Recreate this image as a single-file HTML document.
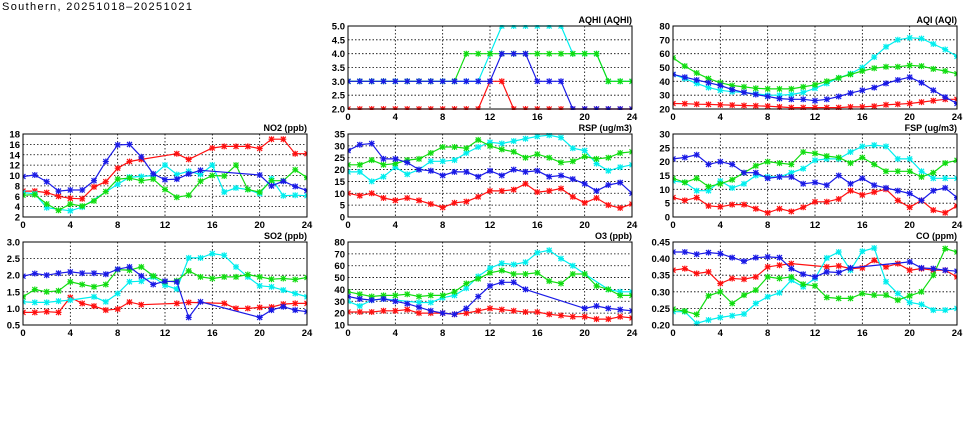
<!DOCTYPE html>
<html><head><meta charset="utf-8"><style>
html,body{margin:0;padding:0;background:#fff;width:975px;height:447px;overflow:hidden}
svg text{font-family:"Liberation Sans",sans-serif}
</style></head><body>
<svg id="s" width="975" height="447" xmlns="http://www.w3.org/2000/svg">
<text x="2" y="10" font-size="11" textLength="190" fill="#000">Southern, 20251018–20251021</text>
</svg>
<script>
const N=null;
const C={r:"#ff1010",b:"#1a1ae6",c:"#00eeee",g:"#11dd11"};
const panels=[
{t:"AQHI (AQHI)",col:1,row:0,min:2,max:5,step:.5,dec:1,d:{
r:[2,2,2,2,2,2,2,2,2,2,2,2,3,3,2,2,2,2,2,2,2,2,2,2,2],
c:[3,3,3,3,3,3,3,3,3,3,3,3,4,5,5,5,5,5,5,4,4,4,3,3,3],
g:[3,3,3,3,3,3,3,3,3,3,4,4,4,4,4,4,4,4,4,4,4,4,3,3,3],
b:[3,3,3,3,3,3,3,3,3,3,3,3,3,4,4,4,3,3,3,2,2,2,2,2,2]}},
{t:"AQI (AQI)",col:2,row:0,min:20,max:80,step:10,dec:0,d:{
r:[24,23.8,23.5,23.3,23,22.8,22.5,22.3,22,21.5,21,21,21,21,21,21.5,21.5,22,23,23.5,24,25,26,27,27],
b:[45,43,41,39,37,34,32,30.5,29,27.5,27,27,26,27,29,31.5,33.5,35.5,38.5,41,43,39,33.5,28.5,24],
c:[45,42,38.5,35.5,33.5,32.5,32,31,30,30,30.5,32,35,38.5,42.5,45.5,50,57.5,65,70,71.5,71,67,63,58],
g:[57,51,46,42,39,37,36,35,34.5,34.5,34.5,36,37.5,40,42.5,45,47.5,49.5,50.5,50.5,51.5,51,49,47.5,45.5]}},
{t:"NO2 (ppb)",col:0,row:1,min:2,max:18,step:2,dec:0,d:{
r:[7,7,6.7,6,5.6,5.5,7.8,8.8,11.4,12.7,13.1,N,N,14.2,13.1,N,15.3,15.6,15.6,15.6,15.2,17,17,14.2,14.2],
b:[9.8,10.1,8.8,7,7.2,7.2,9,12.7,15.9,16,13.6,10.3,9.2,9.3,10.3,11,N,N,N,N,10.1,8,8.9,7.9,7.1],
c:[6.7,6.5,3.8,N,3.2,3.9,N,N,8.3,9.7,9.8,10,12,10.2,10.8,10.2,12,6.8,7.6,7.3,6.5,9.4,6.1,6.2,6.1],
g:[6.2,6.3,4.5,3.3,4.5,4.1,5.1,6.9,9.3,9.5,9,9.3,7.3,5.8,6.2,8.9,10,9.9,12,7.3,6.8,9,9,11.1,9.6]}},
{t:"RSP (ug/m3)",col:1,row:1,min:0,max:35,step:5,dec:0,d:{
r:[10,9,10,8,7,8,7,5.5,4,6,6.5,8.5,11,11,11.5,14,10.5,11,12,8.5,6,8,5,3.8,5.5],
b:[28,30.5,31,24.5,24.5,23,20,19.5,17.5,19,19,17,19.5,17.5,20,19,19.5,17,17.5,16,14,11,13.5,14.5,10],
c:[19,19,15,17,21,18,20,23.5,23.5,24,27,29.5,31.5,31,32,33,34,34.5,33.5,29,28,22.5,19.5,21,22],
g:[22,22,24,22,22.5,24,24.5,27,29.5,29.5,29,32.5,30,28.5,27.5,25,26.5,25,23,23.5,25.5,24.5,25,27,27.5]}},
{t:"FSP (ug/m3)",col:2,row:1,min:0,max:30,step:5,dec:0,d:{
r:[7,6,7,4,3.7,4.5,4.5,3,1.5,3,2,3.5,5.5,5.5,6.5,9.5,8,9,10,6,3.5,6,2.5,1.5,4],
b:[21,21.5,22.5,19,20,19,16,16,14,14.5,14.5,12,12.5,11.5,15,12,14,11.5,10.5,9.5,8.5,6,9.5,10.5,7],
c:[13,12.5,9.5,9.5,13,10.5,12,15,14.5,14.5,16,17.5,20.5,21,21,23.5,25.5,26,25.5,21,21,16.5,14,14,14],
g:[14,12.5,14,11,12,13.5,16,18.5,20,19.5,19,23.5,23,22,21.5,19.5,21.5,19,16.5,16.5,16.5,14.5,16,19.5,20.5]}},
{t:"SO2 (ppb)",col:0,row:2,min:.5,max:3,step:.5,dec:1,d:{
r:[.88,.88,.9,.88,1.33,1.15,1.07,.95,.98,1.19,1.11,N,N,1.15,1.18,N,N,1.15,1.0,1.0,1.03,1.04,1.13,1.15,1.15],
b:[1.97,2.05,2.0,2.06,2.1,2.06,2.06,2.03,2.18,2.25,1.98,1.72,1.82,1.8,0.73,1.2,N,N,N,N,0.73,0.95,1.05,0.95,0.9],
c:[1.2,1.18,1.18,1.22,1.25,N,1.35,1.2,1.45,1.8,1.82,1.95,1.7,1.58,2.52,2.52,2.65,2.6,2.25,1.95,1.68,1.65,1.55,1.45,1.35],
g:[1.35,1.57,1.5,1.53,1.8,1.72,1.65,1.72,2.17,2.15,2.25,1.98,1.8,1.83,2.13,1.95,1.9,1.95,1.95,2.02,1.95,1.88,1.9,1.87,1.93]}},
{t:"O3 (ppb)",col:1,row:2,min:10,max:80,step:10,dec:0,d:{
r:[21,21,21,22,22,23,20,20,20,19,20,22,24,23,22,21,21,19,18,17,17,15,15,17,16],
b:[34,32,31,32,30,28,25,22,20,19,24,34,43,46,46,40,N,N,N,N,24,26,24,23,22],
c:[30,26,31,32,N,N,29,29,33,35,41,51,58,62,61,63,71,73,66,60,53,N,40,38,38],
g:[38,36,34,35,35,36,34,35,35,38,45,49,54,56,53,53,54,47,45,53,53,43,40,35,35]}},
{t:"CO (ppm)",col:2,row:2,min:.2,max:.45,step:.05,dec:2,d:{
r:[.365,.37,.355,.36,.325,.34,.338,.345,.375,.38,.385,N,N,.375,.378,.37,.372,.395,.375,.385,.365,.37,.365,.365,.345],
b:[.42,.42,.413,.418,.415,.403,.392,.403,.405,.403,.37,.353,.345,.36,.358,.372,N,N,N,N,.39,.372,.37,.365,.362],
c:[.24,.24,.205,.215,.223,.228,.233,.265,.285,.297,.335,.315,.34,.402,.42,.365,.422,.432,.33,.295,.268,.262,.245,.245,.25],
g:[.248,.242,.232,.288,.3,.265,.29,.305,.345,.34,.345,.323,.318,.283,.28,.28,.295,.29,.29,.275,.288,.3,.35,.43,.42]}}
];
const XL=[23,348,673],YT=[26,134,242],W=284,H=83;
let o="";
for(const p of panels){
 const x0=XL[p.col],y0=YT[p.row];
 const sx=h=>x0+h/24*W, sy=v=>y0+H-(v-p.min)/(p.max-p.min)*H;
 const n=Math.round((p.max-p.min)/p.step);
 for(let i=0;i<=n;i++){const v=p.min+i*p.step,y=sy(v);
  if(i>0&&i<n)o+=`<line x1="${x0}" y1="${y}" x2="${x0+W}" y2="${y}" stroke="#000" stroke-width="0.8" stroke-dasharray="1.5,2"/>`;
  o+=`<text x="${x0-3}" y="${y+3.5}" font-size="9.5" font-weight="bold" text-anchor="end">${v.toFixed(p.dec)}</text>`;}
 for(let h=0;h<=24;h+=4){const x=sx(h);
  if(h>0&&h<24)o+=`<line x1="${x}" y1="${y0}" x2="${x}" y2="${y0+H}" stroke="#000" stroke-width="0.8" stroke-dasharray="1.5,2"/>`;
  o+=`<text x="${x}" y="${y0+H+11}" font-size="9.5" font-weight="bold" text-anchor="middle">${h}</text>`;}
 o+=`<text x="${x0+W}" y="${y0-3}" font-size="9" font-weight="bold" text-anchor="end">${p.t}</text>`;
 o+=`<svg x="${x0}" y="${y0-1}" width="${W}" height="${H+2}" overflow="hidden"><g transform="translate(${-x0},${-(y0-1)})">`;
 for(const k of ["r","c","g","b"]){const a=p.d[k];let pts=[],mk="";
  a.forEach((v,h)=>{if(v===null)return;const x=sx(h).toFixed(1),y=sy(v).toFixed(1);pts.push(x+","+y);
   mk+=`M${x-2.5},${y-2.5}l5,5M${x-2.5},${+y+2.5}l5,-5M${x-3},${y}h6M${x},${y-3}v6`;});
  o+=`<polyline points="${pts.join(" ")}" fill="none" stroke="${C[k]}" stroke-width="1.2"/><path d="${mk}" stroke="${C[k]}" stroke-width="1.2"/>`;}
 o+=`</g></svg>`;
 o+=`<rect x="${x0}" y="${y0}" width="${W}" height="${H}" fill="none" stroke="#000" stroke-width="1"/>`;
}
document.getElementById("s").insertAdjacentHTML("beforeend",o);
</script>
</body></html>
